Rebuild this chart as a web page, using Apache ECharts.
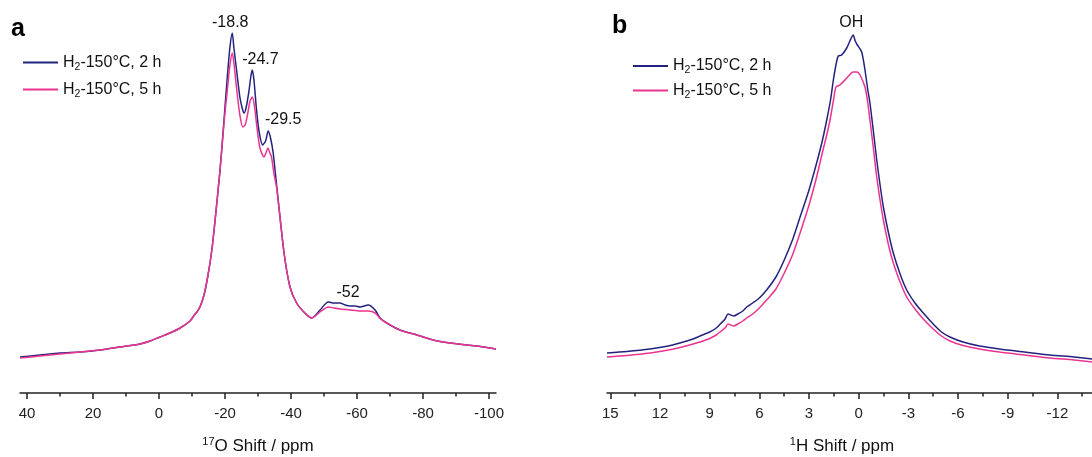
<!DOCTYPE html>
<html>
<head>
<meta charset="utf-8">
<script src="https://cdn.jsdelivr.net/npm/echarts@6/dist/echarts.min.js"></script>
<style>
html,body{margin:0;padding:0;background:#fff;}
#chart{width:1092px;height:457px;}
</style>
</head>
<body>
<div id="chart"></div>
<script>
// ---------- DATA ----------
const seriesNames = ['H\u2082-150\u00b0C, 2 h', 'H\u2082-150\u00b0C, 5 h'];

// 17O spectra: [shift (ppm), intensity (a.u.)]
const o17_2h = [
  [42.1,36],[36.1,38],[30.0,40],[23.9,41],[17.9,43],[11.8,46],[5.8,49],[2.7,52],[-0.3,56],
  [-3.3,60],[-6.4,65],[-9.4,72],[-10.5,77],[-11.5,81],[-12.4,86],[-13.2,93],[-14.0,103],
  [-14.8,117],[-15.5,131],[-16.2,148],[-17.0,173],
  [-18.5,223],[-19.7,273],[-20.7,316],[-21.5,346],[-22.2,360],[-22.7,345],[-23.5,323],
  [-24.5,296],[-25.2,285],[-25.8,280],[-26.5,287],[-27.3,303],[-27.9,318],[-28.3,323],
  [-28.8,312],[-29.5,285],[-30.3,262],[-31.4,248],[-32.3,252],[-33.1,262],[-33.8,255],
  [-34.6,240],[-35.7,206],[-37.9,140],[-39.7,106],[-41.7,90],[-44.2,80],[-46.3,75],
  [-48.8,83],[-51.3,91],[-53.0,90],[-54.8,90],[-56.4,88],[-57.9,87],[-59.4,87],[-60.9,86],
  [-63.4,88],[-65.5,83],[-67.0,75],[-69.0,70],[-73.0,63],[-78.1,58],[-83.1,53],[-88.2,50],
  [-93.2,48],[-98.3,46],[-102.1,44]
];
const o17_5h = [
  [42.1,35],[36.1,37],[30.0,39],[23.9,41],[17.9,43],[11.8,46],[5.8,49],[2.7,52],[-0.3,56],
  [-3.3,60],[-6.4,65],[-9.4,72],[-10.5,77],[-11.5,81],[-12.4,86],[-13.2,93],[-14.0,103],
  [-14.8,117],[-15.5,131],[-16.2,148],[-17.0,173],
  [-18.5,223],[-19.7,270],[-20.7,303],[-21.5,328],[-22.2,340],[-22.7,330],[-23.5,305],
  [-24.5,278],[-25.4,266],[-26.1,268],[-26.8,278],[-27.6,292],[-28.3,296],[-29.0,285],
  [-29.7,265],[-30.6,245],[-31.8,236],[-32.4,240],[-33.0,245],[-33.6,240],[-34.1,236],
  [-34.8,220],[-35.7,204],[-37.9,140],[-39.7,106],[-41.7,90],[-44.2,80],[-46.3,75],
  [-48.8,81],[-51.3,86],[-53.0,85],[-55.0,84],[-57.9,83],[-61.0,82],[-63.4,82],[-65.5,80],
  [-67.2,74],[-69.0,70],[-73.0,63],[-78.1,58],[-83.1,53],[-88.2,50],[-93.2,48],[-98.3,46],
  [-102.1,44]
];

// 1H spectra: [shift (ppm), intensity (a.u.)]
const h1_2h = [
  [15.2,40],[14.0,41.5],[12.6,44],[11.5,47],[10.8,50],[10.0,54],[9.58,57],[9.0,61],[8.6,65],
  [8.3,70],[8.07,74],[7.89,79],[7.72,78],[7.55,77],[7.3,79],[7.0,82],[6.76,86],[6.4,90],
  [6.0,95],[5.56,103],[5.0,116],[4.55,131],[4.0,153],[3.54,176],[3.0,203],[2.54,230],
  [2.2,252],[1.93,273],[1.7,293],[1.53,313],[1.35,330],[1.23,337],[1.03,338],[0.72,345],
  [0.53,352],[0.33,358],[0.21,352],[0.08,348],[-0.18,341],[-0.38,323],[-0.55,303],
  [-0.68,290],[-0.9,260],[-1.09,233],[-1.3,207],[-1.49,186],[-1.8,160],[-2.09,140],
  [-2.5,119],[-2.9,103],[-3.4,90],[-3.9,80],[-4.5,69],[-5.0,61],[-5.51,56],[-6.3,51],
  [-7.3,47],[-8.5,44],[-10.0,41],[-11.55,38],[-13.0,36],[-14.1,34]
];
const h1_5h = [
  [15.2,36],[14.0,37.5],[12.6,40],[11.5,43],[10.8,45.5],[10.0,49],[9.58,51],[9.0,54.5],
  [8.6,58],[8.3,62],[8.07,65],[7.89,69],[7.72,68],[7.55,67],[7.3,69],[7.0,72],[6.76,75],
  [6.4,79],[6.0,85],[5.56,93],[5.0,104],[4.55,118],[4.0,138],[3.54,160],[3.0,188],
  [2.54,216],[2.2,240],[1.93,258],[1.73,273],[1.5,295],[1.37,306],[1.13,308],[0.72,315],
  [0.33,321],[0.10,321],[-0.08,318],[-0.38,306],[-0.55,290],[-0.68,273],[-0.9,243],
  [-1.09,216],[-1.3,192],[-1.49,173],[-1.8,148],[-2.09,130],[-2.5,111],[-2.9,96],
  [-3.4,84],[-3.9,74],[-4.5,64],[-5.0,57],[-5.51,52],[-6.3,47.5],[-7.3,44],[-8.5,41],
  [-10.0,38],[-11.55,35],[-13.0,33],[-14.1,31]
];

// tick values
const o17Major = [40, 20, 0, -20, -40, -60, -80, -100];
const o17Minor = [30, 10, -10, -30, -50, -70, -90];
const h1Major = [15, 12, 9, 6, 3, 0, -3, -6, -9, -12];
const h1Minor = [13.5, 10.5, 7.5, 4.5, 1.5, -1.5, -4.5, -7.5, -10.5, -13.5];

// peak annotations: label text and the shift at which the drawn peak sits
const o17Peaks = [
  { text: '-18.8', at: -22.2 },
  { text: '-24.7', at: -28.3 },
  { text: '-29.5', at: -33.1 },
  { text: '-52', at: -57.9 }
];
const h1Peaks = [{ text: 'OH', at: 0.33 }];

// ---------- CHART ----------
const BLUE = '#23237f';
const PINK = '#ea3490';
const FONT = '"Liberation Sans", Arial, sans-serif';
const peakOffsets = {
  '-18.8': [-2, -10], '-24.7': [8, -10], '-29.5': [15, -11], '-52': [-2, -13], 'OH': [-2, -12]
};
function valAt(arr, x) {
  let best = arr[0];
  for (const p of arr) if (Math.abs(p[0] - x) < Math.abs(best[0] - x)) best = p;
  return best;
}
function markFor(peaks, arr) {
  return {
    symbol: 'circle', symbolSize: 0, silent: true,
    label: { show: true, color: '#111', fontSize: 16, fontFamily: FONT, position: 'inside' },
    data: peaks.map(p => {
      const pt = valAt(arr, p.at);
      return { coord: [pt[0], pt[1]], label: { formatter: p.text, offset: peakOffsets[p.text] } };
    })
  };
}
const richSub = { sub: { fontSize: 10.5, fontFamily: FONT, color: '#111', padding: [9, 0, 0, 0] } };
const richSup = { sup: { fontSize: 11, fontFamily: FONT, color: '#111', padding: [0, 0, 9, 0] } };
function legendFmt(n) { return n.replace('\u2082', '{sub|2}'); }

function axisPair(gridIndex, min, max, major, minor, nameRich, namePad) {
  return [
    {
      type: 'value', gridIndex, inverse: true, min, max, position: 'bottom',
      splitLine: { show: false },
      axisLine: { show: true, onZero: false, lineStyle: { color: '#222', width: 1.5 } },
      axisTick: { show: true, customValues: major, length: 6, lineStyle: { color: '#222', width: 1.5 } },
      axisLabel: { show: true, customValues: major, fontSize: 15, color: '#222', fontFamily: FONT, margin: 13 },
      name: nameRich, nameLocation: 'middle', nameGap: 43,
      nameTextStyle: { fontSize: 17, color: '#111', fontFamily: FONT, rich: richSup, padding: namePad }
    },
    {
      type: 'value', gridIndex, inverse: true, min, max, position: 'bottom',
      splitLine: { show: false },
      axisLine: { show: false, onZero: false },
      axisTick: { show: true, customValues: minor, length: 3.5, lineStyle: { color: '#222', width: 1.5 } },
      axisLabel: { show: false }
    }
  ];
}

const legendBase = {
  orient: 'vertical', icon: 'rect', itemWidth: 35, itemHeight: 2, padding: 0,
  data: seriesNames, formatter: legendFmt, selectedMode: false,
  textStyle: { fontSize: 16, color: '#111', fontFamily: FONT, rich: richSub }
};

const option = {
  animation: false,
  backgroundColor: '#fff',
  title: [
    { text: 'a', left: 6, top: 12, textStyle: { fontSize: 25, fontWeight: 'bold', color: '#000', fontFamily: FONT } },
    { text: 'b', left: 607, top: 9, textStyle: { fontSize: 25, fontWeight: 'bold', color: '#000', fontFamily: FONT } }
  ],
  legend: [
    Object.assign({}, legendBase, { left: 23, top: 54.5, itemGap: 9 }),
    Object.assign({}, legendBase, { left: 633, top: 58, itemGap: 6.5 })
  ],
  grid: [
    { left: 20, width: 476, top: 20, height: 373, outerBoundsMode: 'none', containLabel: false },
    { left: 607, width: 485, top: 20, height: 373, outerBoundsMode: 'none', containLabel: false }
  ],
  xAxis: [
    ...axisPair(0, -102.12, 42.12, o17Major, o17Minor, '{sup|17}O Shift / ppm', [0, 0, 0, 0]),
    ...axisPair(1, -14.09, 15.2, h1Major, h1Minor, '{sup|1}H Shift / ppm', [0, 15, 0, 0])
  ],
  yAxis: [
    { type: 'value', gridIndex: 0, min: 0, max: 373, show: false },
    { type: 'value', gridIndex: 1, min: 0, max: 373, show: false }
  ],
  series: [
    { name: seriesNames[0], type: 'line', xAxisIndex: 0, yAxisIndex: 0, data: o17_2h, symbol: 'none',
      smooth: 0.25, lineStyle: { color: BLUE, width: 1.5 }, itemStyle: { color: BLUE },
      markPoint: markFor(o17Peaks, o17_2h) },
    { name: seriesNames[1], type: 'line', xAxisIndex: 0, yAxisIndex: 0, data: o17_5h, symbol: 'none',
      smooth: 0.25, lineStyle: { color: PINK, width: 1.5 }, itemStyle: { color: PINK } },
    { name: seriesNames[0], type: 'line', xAxisIndex: 2, yAxisIndex: 1, data: h1_2h, symbol: 'none',
      smooth: 0.25, lineStyle: { color: BLUE, width: 1.5 }, itemStyle: { color: BLUE },
      markPoint: markFor(h1Peaks, h1_2h) },
    { name: seriesNames[1], type: 'line', xAxisIndex: 2, yAxisIndex: 1, data: h1_5h, symbol: 'none',
      smooth: 0.25, lineStyle: { color: PINK, width: 1.5 }, itemStyle: { color: PINK } }
  ]
};
const chart = echarts.init(document.getElementById('chart'), null, { renderer: 'canvas' });
chart.setOption(option);
</script>
</body>
</html>
